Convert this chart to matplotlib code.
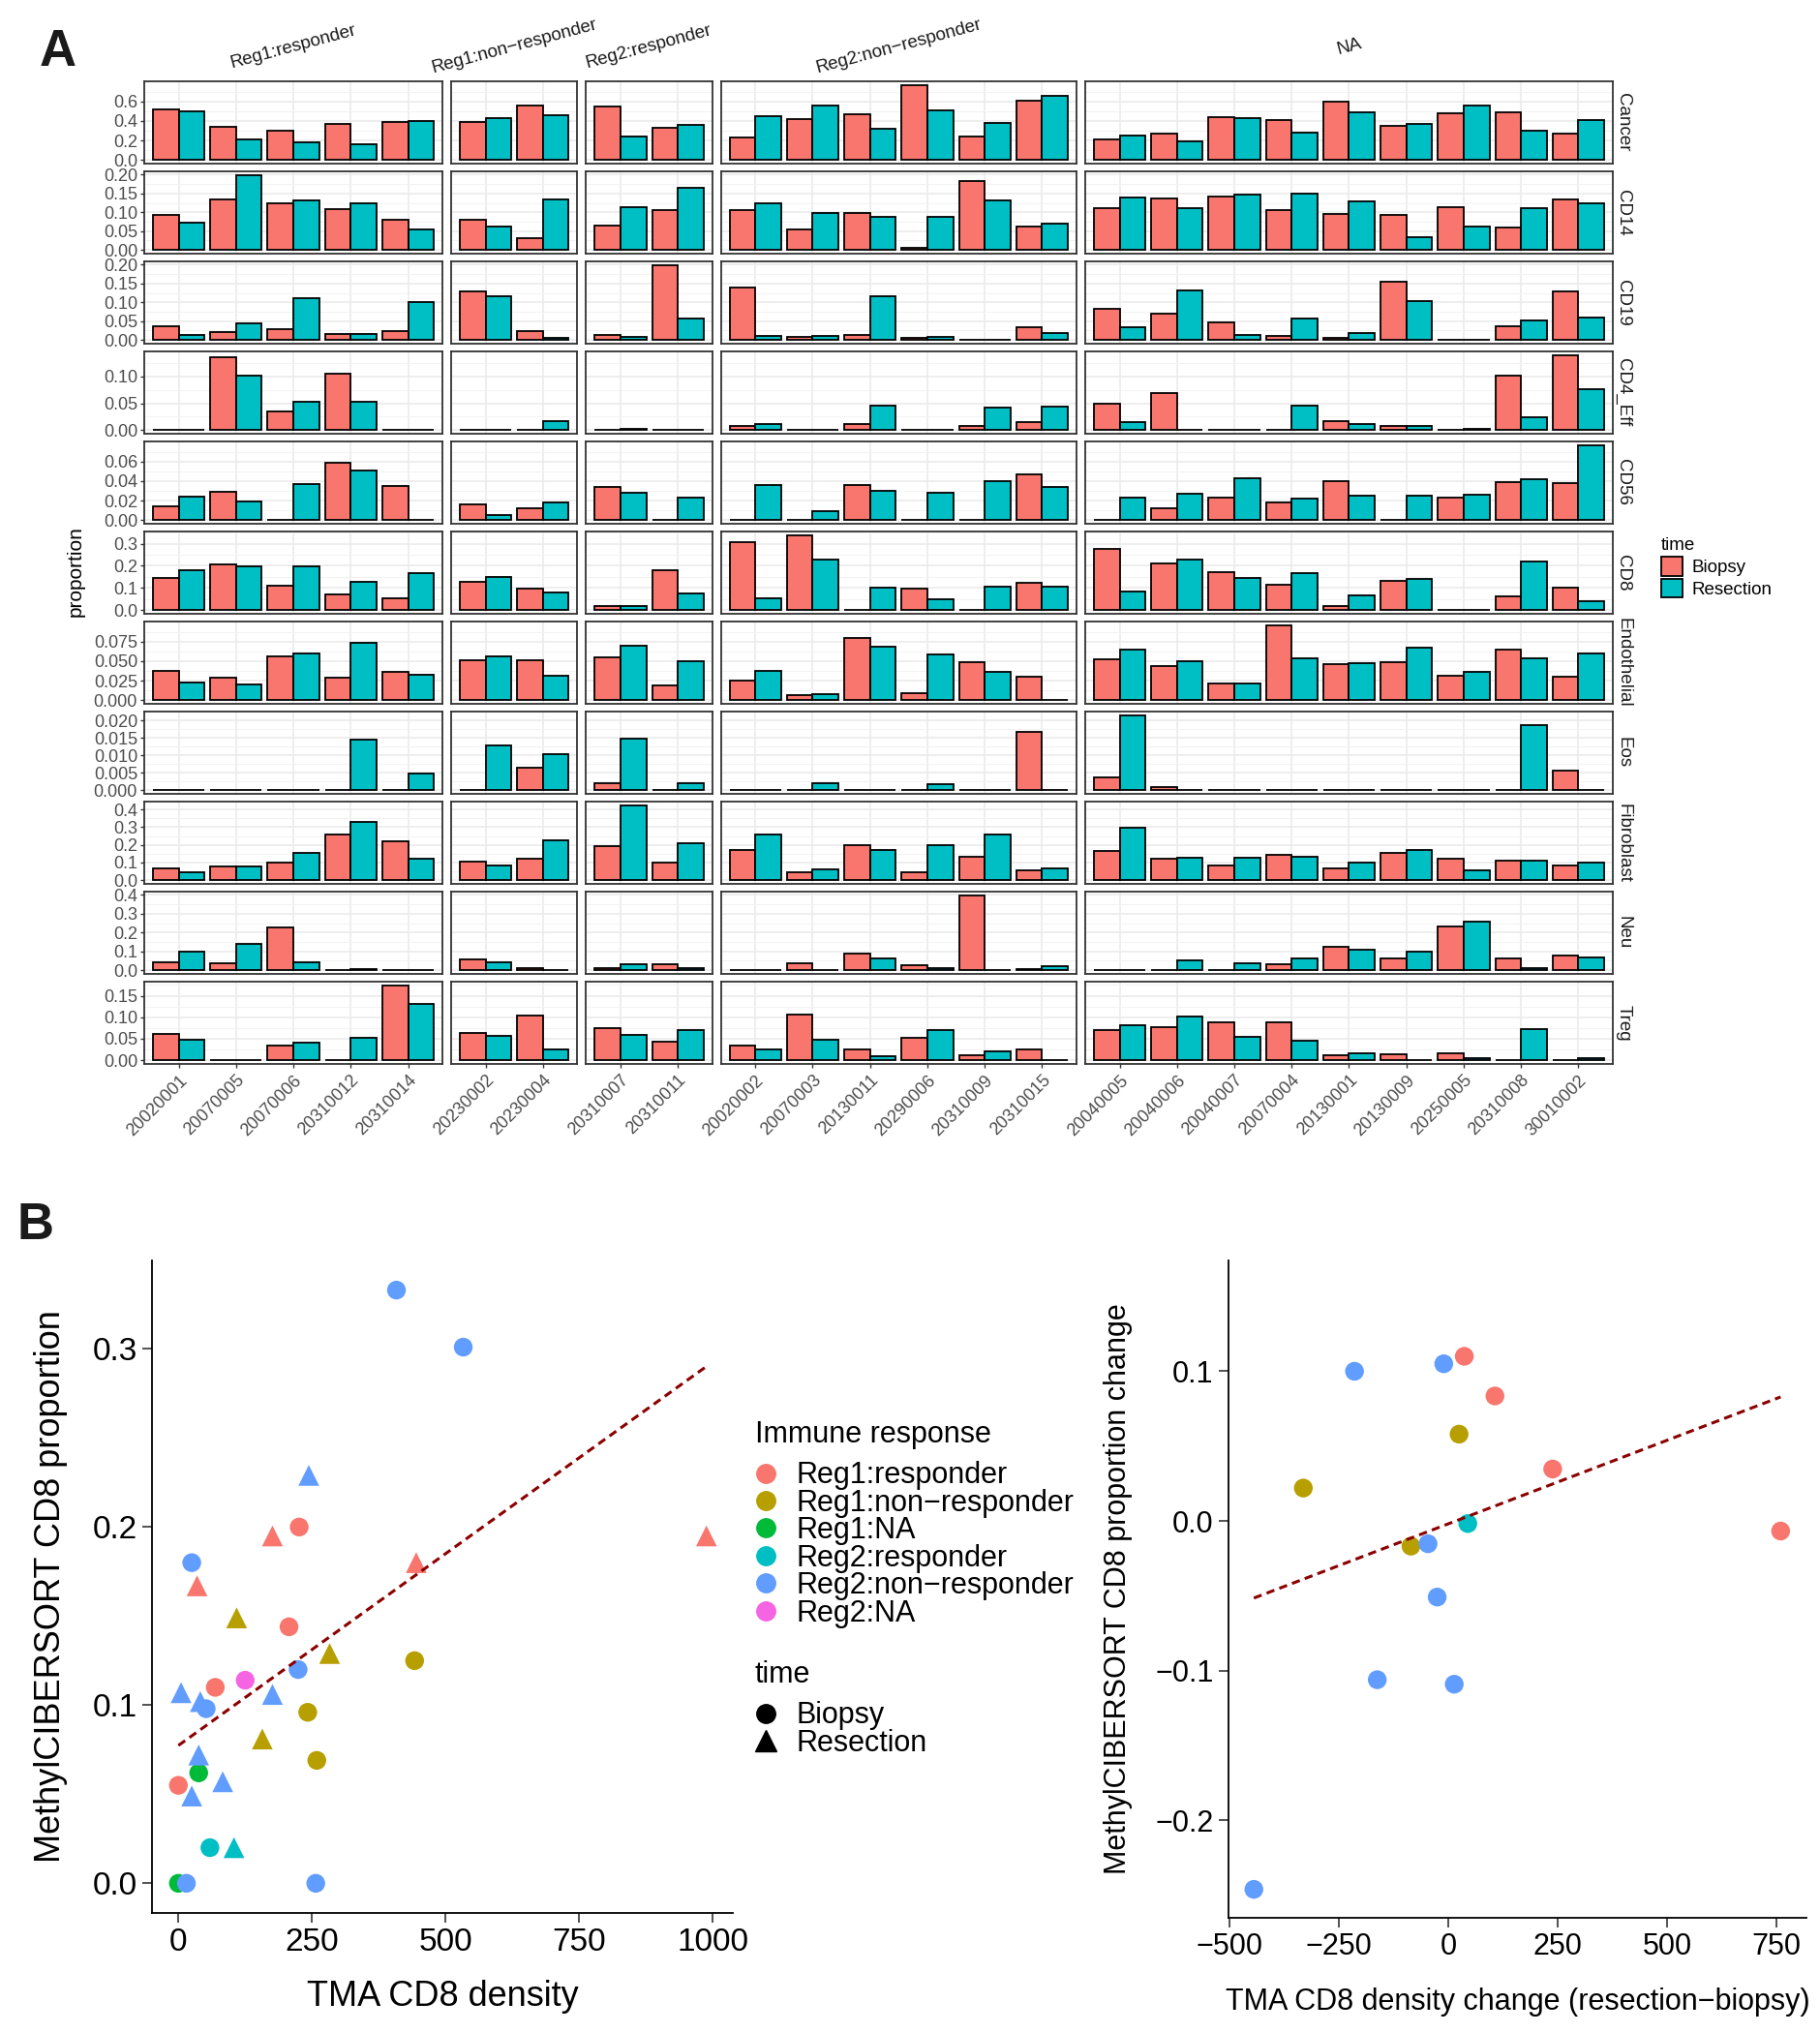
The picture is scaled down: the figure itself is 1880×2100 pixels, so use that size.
import matplotlib.pyplot as plt
import numpy as np
from matplotlib.lines import Line2D
from matplotlib.patches import Patch

plt.rcParams['font.family'] = ['Liberation Sans', 'DejaVu Sans']

# ---------------- panel A data ----------------
groups = ["Reg1:responder", "Reg1:non\u2212responder", "Reg2:responder",
          "Reg2:non\u2212responder", "NA"]
samples_r1_resp = ["20020001", "20070005", "20070006", "20310012", "20310014"]
samples_r1_nonresp = ["20230002", "20230004"]
samples_r2_resp = ["20310007", "20310011"]
samples_r2_nonresp = ["20020002", "20070003", "20130011", "20290006", "20310009", "20310015"]
samples_na = ["20040005", "20040006", "20040007", "20070004", "20130001", "20130009",
              "20250005", "20310008", "30010002"]
group_samples = [samples_r1_resp, samples_r1_nonresp, samples_r2_resp,
                 samples_r2_nonresp, samples_na]

cell_types = ["Cancer", "CD14", "CD19", "CD4_Eff", "CD56", "CD8", "Endothelial",
              "Eos", "Fibroblast", "Neu", "Treg"]

cancer_biopsy = [0.52, 0.343, 0.303, 0.367, 0.387, 0.387, 0.56, 0.547, 0.33,
                 0.23, 0.42, 0.467, 0.77, 0.237, 0.607,
                 0.207, 0.273, 0.44, 0.407, 0.60, 0.347, 0.48, 0.487, 0.273]
cancer_resection = [0.503, 0.213, 0.183, 0.157, 0.397, 0.433, 0.463, 0.237, 0.357,
                    0.453, 0.557, 0.32, 0.507, 0.377, 0.663,
                    0.247, 0.193, 0.427, 0.28, 0.493, 0.367, 0.563, 0.30, 0.413]
cd14_biopsy = [0.093, 0.135, 0.125, 0.109, 0.081, 0.080, 0.030, 0.065, 0.105,
               0.105, 0.054, 0.099, 0.005, 0.184, 0.063,
               0.112, 0.138, 0.143, 0.107, 0.095, 0.093, 0.114, 0.060, 0.133]
cd14_resection = [0.072, 0.199, 0.132, 0.123, 0.055, 0.061, 0.133, 0.114, 0.165,
                  0.124, 0.097, 0.088, 0.087, 0.132, 0.069,
                  0.139, 0.112, 0.148, 0.150, 0.130, 0.035, 0.063, 0.111, 0.123]
cd19_biopsy = [0.036, 0.022, 0.029, 0.015, 0.023, 0.128, 0.024, 0.013, 0.199,
               0.140, 0.009, 0.013, 0.006, 0.0, 0.035,
               0.082, 0.069, 0.047, 0.010, 0.005, 0.156, 0.0, 0.036, 0.130]
cd19_resection = [0.014, 0.044, 0.111, 0.016, 0.102, 0.116, 0.005, 0.009, 0.058,
                  0.010, 0.011, 0.117, 0.009, 0.0, 0.019,
                  0.033, 0.132, 0.014, 0.056, 0.018, 0.104, 0.0, 0.053, 0.059]
cd4eff_biopsy = [0.0, 0.137, 0.034, 0.105, 0.0, 0.0, 0.0, 0.0, 0.0,
                 0.007, 0.0, 0.0115, 0.0, 0.008, 0.015,
                 0.049, 0.070, 0.0, 0.001, 0.017, 0.0067, 0.0, 0.102, 0.140]
cd4eff_resection = [0.0, 0.102, 0.053, 0.053, 0.0, 0.0, 0.016, 0.0025, 0.0,
                    0.011, 0.0, 0.045, 0.0, 0.042, 0.044,
                    0.014, 0.0, 0.0, 0.045, 0.0115, 0.0067, 0.0025, 0.024, 0.076]
cd56_biopsy = [0.014, 0.029, 0.0, 0.059, 0.0355, 0.0156, 0.0123, 0.0345, 0.0,
               0.0, 0.0, 0.0358, 0.0, 0.0, 0.047,
               0.0, 0.0123, 0.023, 0.018, 0.040, 0.0, 0.0235, 0.039, 0.038]
cd56_resection = [0.0245, 0.0195, 0.0375, 0.051, 0.0, 0.005, 0.018, 0.028, 0.023,
                  0.036, 0.009, 0.030, 0.028, 0.040, 0.034,
                  0.0235, 0.0275, 0.0428, 0.022, 0.025, 0.0255, 0.0265, 0.042, 0.077]
cd8_biopsy = [0.146, 0.204, 0.111, 0.070, 0.054, 0.127, 0.0975, 0.019, 0.182,
              0.306, 0.338, 0.0, 0.099, 0.0, 0.121,
              0.277, 0.210, 0.172, 0.116, 0.0175, 0.130, 0.0, 0.063, 0.102]
cd8_resection = [0.180, 0.197, 0.197, 0.128, 0.167, 0.150, 0.080, 0.0175, 0.073,
                 0.054, 0.230, 0.100, 0.048, 0.106, 0.105,
                 0.084, 0.226, 0.144, 0.167, 0.068, 0.140, 0.0, 0.220, 0.038]
endo_biopsy = [0.0379, 0.0288, 0.0565, 0.029, 0.036, 0.051, 0.051, 0.0548, 0.0185,
               0.025, 0.006, 0.080, 0.009, 0.049, 0.0297,
               0.0523, 0.044, 0.021, 0.096, 0.0457, 0.049, 0.0313, 0.0647, 0.030]
endo_resection = [0.023, 0.020, 0.060, 0.074, 0.033, 0.056, 0.0317, 0.070, 0.050,
                  0.0375, 0.0074, 0.068, 0.0585, 0.0358, 0.0,
                  0.0647, 0.0494, 0.0218, 0.053, 0.047, 0.067, 0.0367, 0.0536, 0.060]
eos_biopsy = [0.0, 0.0, 0.0, 0.0, 0.0, 0.0, 0.0065, 0.0021, 0.0,
              0.0, 0.0, 0.0, 0.0, 0.0, 0.0168,
              0.0037, 0.0009, 0.0, 0.0, 0.0, 0.0, 0.0, 0.0, 0.0055]
eos_resection = [0.0, 0.0, 0.0, 0.0145, 0.0049, 0.0127, 0.0103, 0.0147, 0.0021,
                 0.0, 0.0021, 0.0, 0.0018, 0.0, 0.0,
                 0.0215, 0.0, 0.0, 0.0, 0.0, 0.0, 0.0, 0.0188, 0.0]
fibro_biopsy = [0.067, 0.080, 0.098, 0.258, 0.222, 0.105, 0.122, 0.191, 0.100,
                0.169, 0.045, 0.196, 0.044, 0.131, 0.053,
                0.164, 0.122, 0.082, 0.142, 0.065, 0.155, 0.120, 0.111, 0.085]
fibro_resection = [0.047, 0.080, 0.156, 0.331, 0.124, 0.085, 0.227, 0.424, 0.207,
                   0.258, 0.062, 0.173, 0.200, 0.260, 0.067,
                   0.298, 0.125, 0.125, 0.133, 0.102, 0.173, 0.058, 0.111, 0.102]
neu_biopsy = [0.041, 0.036, 0.226, 0.002, 0.002, 0.056, 0.010, 0.012, 0.034,
              0.002, 0.037, 0.089, 0.029, 0.398, 0.007,
              0.0, 0.0, 0.003, 0.031, 0.123, 0.061, 0.235, 0.060, 0.077]
neu_resection = [0.100, 0.141, 0.044, 0.007, 0.003, 0.043, 0.002, 0.032, 0.0085,
                 0.003, 0.0, 0.061, 0.012, 0.0, 0.019,
                 0.0, 0.054, 0.039, 0.063, 0.107, 0.097, 0.260, 0.010, 0.066]
treg_biopsy = [0.060, 0.0, 0.033, 0.0, 0.174, 0.064, 0.105, 0.074, 0.043,
               0.034, 0.107, 0.024, 0.053, 0.011, 0.025,
               0.071, 0.077, 0.089, 0.087, 0.012, 0.014, 0.017, 0.0, 0.0]
treg_resection = [0.047, 0.0, 0.041, 0.051, 0.130, 0.0565, 0.025, 0.059, 0.069,
                  0.026, 0.047, 0.010, 0.069, 0.020, 0.0,
                  0.081, 0.102, 0.055, 0.046, 0.017, 0.0, 0.004, 0.072, 0.0045]

biopsy_rows = [cancer_biopsy, cd14_biopsy, cd19_biopsy, cd4eff_biopsy, cd56_biopsy,
               cd8_biopsy, endo_biopsy, eos_biopsy, fibro_biopsy, neu_biopsy, treg_biopsy]
resection_rows = [cancer_resection, cd14_resection, cd19_resection, cd4eff_resection,
                  cd56_resection, cd8_resection, endo_resection, eos_resection,
                  fibro_resection, neu_resection, treg_resection]

row_ticks = [
    ([0, 0.2, 0.4, 0.6], ["0.0", "0.2", "0.4", "0.6"]),
    ([0, 0.05, 0.10, 0.15, 0.20], ["0.00", "0.05", "0.10", "0.15", "0.20"]),
    ([0, 0.05, 0.10, 0.15, 0.20], ["0.00", "0.05", "0.10", "0.15", "0.20"]),
    ([0, 0.05, 0.10], ["0.00", "0.05", "0.10"]),
    ([0, 0.02, 0.04, 0.06], ["0.00", "0.02", "0.04", "0.06"]),
    ([0, 0.1, 0.2, 0.3], ["0.0", "0.1", "0.2", "0.3"]),
    ([0, 0.025, 0.05, 0.075], ["0.000", "0.025", "0.050", "0.075"]),
    ([0, 0.005, 0.01, 0.015, 0.02], ["0.000", "0.005", "0.010", "0.015", "0.020"]),
    ([0, 0.1, 0.2, 0.3, 0.4], ["0.0", "0.1", "0.2", "0.3", "0.4"]),
    ([0, 0.1, 0.2, 0.3, 0.4], ["0.0", "0.1", "0.2", "0.3", "0.4"]),
    ([0, 0.05, 0.10, 0.15], ["0.00", "0.05", "0.10", "0.15"]),
]

# ---------------- panel B data ----------------
resp_levels = ["Reg1:responder", "Reg1:non\u2212responder", "Reg1:NA",
               "Reg2:responder", "Reg2:non\u2212responder", "Reg2:NA"]
resp_colors = ["#F8766D", "#B79F00", "#00BA38", "#00BFC4", "#619CFF", "#F564E3"]

tma_density = [226, 207, 69, 0, 176, 35, 445, 988,
               442, 242, 259, 109, 283, 157,
               38, 0,
               59, 104,
               408, 533, 25, 224, 52, 15, 257, 244, 5, 41, 176, 38, 83, 25,
               125]
cd8_prop = [0.200, 0.144, 0.110, 0.055, 0.195, 0.167, 0.180, 0.195,
            0.125, 0.096, 0.069, 0.149, 0.129, 0.081,
            0.062, 0.0,
            0.020, 0.020,
            0.333, 0.301, 0.180, 0.120, 0.098, 0.0, 0.0, 0.229, 0.107, 0.102, 0.106,
            0.072, 0.057, 0.049,
            0.114]
point_group = [0] * 8 + [1] * 6 + [2] * 2 + [3] * 2 + [4] * 14 + [5]
point_time = (["Biopsy"] * 4 + ["Resection"] * 4 + ["Biopsy"] * 3 + ["Resection"] * 3
              + ["Biopsy"] * 2 + ["Biopsy", "Resection"]
              + ["Biopsy"] * 7 + ["Resection"] * 7 + ["Biopsy"])

density_change = [-215, -11, 36, 106, 24, -332, 238, 44, 759, -86, -47, -26, -163, 13, -445]
prop_change = [0.100, 0.105, 0.110, 0.0835, 0.058, 0.022, 0.0347, -0.0017, -0.0067,
               -0.0168, -0.0152, -0.0508, -0.106, -0.109, -0.246]
change_group = [4, 4, 0, 0, 1, 1, 0, 3, 0, 1, 4, 4, 4, 4, 4]

# ---------------- figure ----------------
W, H = 1881, 2100
fig = plt.figure(figsize=(W / 100, H / 100), dpi=100)


def box(x0, y0, x1, y1):
    return [x0 / W, 1 - y1 / H, (x1 - x0) / W, (y1 - y0) / H]


fill_b, fill_r = "#F8766D", "#00BFC4"
grey30 = "#4D4D4D"

col_units = [len(s) + 0.2 for s in group_samples]
left0, right0, gap = 149, 1666, 9
unit = (right0 - left0 - gap * (len(group_samples) - 1)) / sum(col_units)
col_left = []
pos = left0
for u in col_units:
    col_left.append(pos)
    pos += u * unit + gap

row_top0, row_h, row_gap = 84, 85, 8
nrows = len(cell_types)

for r, cell in enumerate(cell_types):
    top = row_top0 + r * (row_h + row_gap)
    bvals = biopsy_rows[r]
    rvals = resection_rows[r]
    m = max(max(bvals), max(rvals))
    ticks, tlabels = row_ticks[r]
    step = ticks[1] - ticks[0]
    minors = [t + step / 2 for t in ticks if t + step / 2 <= 1.05 * m]
    start = 0
    for c, samples in enumerate(group_samples):
        n = len(samples)
        w = col_units[c] * unit
        ax = fig.add_axes(box(col_left[c], top, col_left[c] + w, top + row_h))
        x = np.arange(n)
        ax.bar(x - 0.225, bvals[start:start + n], 0.45, color=fill_b,
               edgecolor="black", linewidth=1.3, zorder=3)
        ax.bar(x + 0.225, rvals[start:start + n], 0.45, color=fill_r,
               edgecolor="black", linewidth=1.3, zorder=3)
        start += n
        ax.set_xlim(-0.6, n - 0.4)
        ax.set_ylim(-0.05 * m, 1.05 * m)
        ax.set_yticks(ticks)
        ax.set_yticks(minors, minor=True)
        ax.set_xticks(x)
        ax.grid(which="major", color="#EBEBEB", linewidth=1.2, zorder=0)
        ax.grid(which="minor", axis="y", color="#F2F2F2", linewidth=0.7, zorder=0)
        ax.set_axisbelow(True)
        ax.tick_params(which="minor", length=0)
        for sp in ax.spines.values():
            sp.set_color("#333333")
            sp.set_linewidth(1.3)
        if c == 0:
            ax.set_yticklabels(tlabels, fontsize=13, color=grey30)
            ax.tick_params(axis="y", length=3, width=1, color="#333333", pad=2)
        else:
            ax.set_yticklabels([])
            ax.tick_params(axis="y", length=0)
        if r == nrows - 1:
            ax.set_xticklabels(samples, rotation=45, ha="right", va="top",
                               rotation_mode="anchor", fontsize=13, color=grey30)
            ax.tick_params(axis="x", length=3, width=1, color="#333333", pad=3)
        else:
            ax.set_xticklabels([])
            ax.tick_params(axis="x", length=0)
        if r == 0:
            fig.text((col_left[c] + w / 2) / W, 1 - 48 / H, groups[c], rotation=15,
                     ha="center", va="center", rotation_mode="anchor",
                     fontsize=13.5, color="#1A1A1A")
    fig.text(1677 / W, 1 - (top + row_h / 2) / H, cell, rotation=-90,
             ha="center", va="center", fontsize=13.5, color="#1A1A1A")

fig.text(78 / W, 1 - 590 / H, "proportion", rotation=90, ha="center", va="center",
         fontsize=15)
fig.text(60 / W, 1 - 54 / H, "A", fontsize=38, fontweight="bold", ha="center",
         va="center", color="#1A1A1A")

legA = fig.legend(handles=[Patch(facecolor=fill_b, edgecolor="black", linewidth=1.3),
                           Patch(facecolor=fill_r, edgecolor="black", linewidth=1.3)],
                  labels=["Biopsy", "Resection"], title="time",
                  loc="upper left", bbox_to_anchor=(1708 / W, 1 - 548 / H),
                  frameon=False, fontsize=13.5, title_fontsize=13.5,
                  handlelength=1.2, handleheight=1.2, labelspacing=0.15,
                  handletextpad=0.5, alignment="left", borderaxespad=0)

# ---------------- panel B ----------------
fig.text(37 / W, 1 - 1266 / H, "B", fontsize=38, fontweight="bold", ha="center",
         va="center", color="#1A1A1A")

markers = {"Biopsy": "o", "Resection": "^"}
tma_density = np.array(tma_density, dtype=float)
cd8_prop = np.array(cd8_prop)

ax1 = fig.add_axes(box(157, 1302, 757, 1976))
for xv, yv, g, t in zip(tma_density, cd8_prop, point_group, point_time):
    ax1.scatter(xv, yv, s=240 if t == "Resection" else 195, marker=markers[t],
                color=resp_colors[g], edgecolors="none", zorder=3)
k1, b1 = np.polyfit(tma_density, cd8_prop, 1)
xl = np.array([tma_density.min(), tma_density.max()])
ax1.plot(xl, k1 * xl + b1, color="#8B0000", linestyle=(0, (2.8, 1.8)), linewidth=2.2,
         zorder=4)
rx = tma_density.max() - tma_density.min()
ry = cd8_prop.max() - cd8_prop.min()
ax1.set_xlim(tma_density.min() - 0.05 * rx, tma_density.max() + 0.05 * rx)
ax1.set_ylim(cd8_prop.min() - 0.05 * ry, cd8_prop.max() + 0.05 * ry)
ax1.set_xticks([0, 250, 500, 750, 1000])
ax1.set_yticks([0.0, 0.1, 0.2, 0.3])
ax1.set_yticklabels(["0.0", "0.1", "0.2", "0.3"])
ax1.set_xlabel("TMA CD8 density", fontsize=26, labelpad=16)
ax1.set_ylabel("MethylCIBERSORT CD8 proportion", fontsize=26, labelpad=18)
ax1.tick_params(labelsize=24)

density_change = np.array(density_change, dtype=float)
prop_change = np.array(prop_change)
ax2 = fig.add_axes(box(1269, 1302, 1866, 1981))
for xv, yv, g in zip(density_change, prop_change, change_group):
    ax2.scatter(xv, yv, s=195, marker="o", color=resp_colors[g], edgecolors="none",
                zorder=3)
k2, b2 = np.polyfit(density_change, prop_change, 1)
xl2 = np.array([density_change.min(), density_change.max()])
ax2.plot(xl2, k2 * xl2 + b2, color="#8B0000", linestyle=(0, (2.8, 1.8)),
         linewidth=2.2, zorder=4)
ax2.set_xlim(-503, 818)
ax2.set_ylim(-0.265, 0.174)
ax2.set_xticks([-500, -250, 0, 250, 500, 750])
ax2.set_xticklabels(["\u2212500", "\u2212250", "0", "250", "500", "750"])
ax2.set_yticks([-0.2, -0.1, 0.0, 0.1])
ax2.set_yticklabels(["\u22120.2", "\u22120.1", "0.0", "0.1"])
ax2.set_xlabel("TMA CD8 density change (resection\u2212biopsy)", fontsize=22,
               labelpad=19)
ax2.set_ylabel("MethylCIBERSORT CD8 proportion change", fontsize=22, labelpad=17)
ax2.tick_params(labelsize=22)

for ax in (ax1, ax2):
    ax.spines["top"].set_visible(False)
    ax.spines["right"].set_visible(False)
    for sp in ("left", "bottom"):
        ax.spines[sp].set_linewidth(1.3)
    ax.tick_params(length=7, width=1.2, color="#333333", pad=4)

# legend for panel B (titles drawn separately for tighter control)
fig.text(780 / W, 1 - 1482 / H, "Immune response", fontsize=22, ha="left", va="center")
resp_handles = [Line2D([], [], marker="o", linestyle="", color=c, markersize=14)
                for c in resp_colors]
legB1 = fig.legend(handles=resp_handles, labels=resp_levels,
                   loc="upper left", bbox_to_anchor=(764 / W, 1 - 1497 / H),
                   frameon=False, fontsize=22, labelspacing=-0.05,
                   handletextpad=0.5, handlelength=1.0, borderaxespad=0)
fig.text(780 / W, 1 - 1730 / H, "time", fontsize=22, ha="left", va="center")
time_handles = [Line2D([], [], marker="o", linestyle="", color="black", markersize=14),
                Line2D([], [], marker="^", linestyle="", color="black", markersize=16)]
legB2 = fig.legend(handles=time_handles, labels=["Biopsy", "Resection"],
                   loc="upper left", bbox_to_anchor=(764 / W, 1 - 1745 / H),
                   frameon=False, fontsize=22, labelspacing=-0.05,
                   handletextpad=0.5, handlelength=1.0, borderaxespad=0)

fig.savefig("out.png", dpi=100)
